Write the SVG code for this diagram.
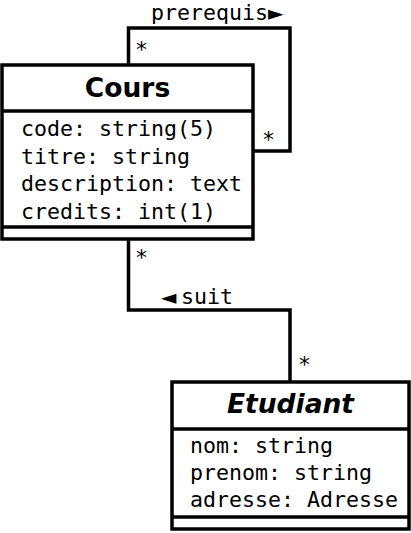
<svg xmlns="http://www.w3.org/2000/svg" width="411" height="533" viewBox="0 0 411 533">
<style>
.box{fill:#fff;stroke:#000;stroke-width:3.5}
.ln{fill:none;stroke:#000;stroke-width:3.5}
.mono{font-family:"DejaVu Sans Mono","Liberation Mono",monospace;font-size:21.6px;fill:#000}
.sym{font-family:"DejaVu Sans","Liberation Sans",sans-serif;font-size:20px}
.title{font-family:"DejaVu Sans","Liberation Sans",sans-serif;font-size:26.5px;font-weight:bold;fill:#000;text-anchor:middle}
</style>
<rect width="411" height="533" fill="#fff"/>
<g id="connectors">
<polyline class="ln" points="128.5,65 128.5,28 290,28 290,151 253,151"/>
<text class="mono" x="151" y="19.5">prerequis<tspan class="sym">►</tspan></text>
<text class="mono" x="135" y="57">*</text>
<text class="mono" x="262" y="147">*</text>
<polyline class="ln" points="128.5,239 128.5,310 290,310 290,382"/>
<text class="mono" x="135" y="265">*</text>
<text class="mono" x="161" y="304"><tspan class="sym">◄</tspan><tspan x="181">suit</tspan></text>
<text class="mono" x="298" y="372">*</text>
</g>
<g id="Cours">
<rect class="box" x="2" y="65" width="251" height="174"/>
<line class="ln" x1="2" y1="111" x2="253" y2="111"/>
<line class="ln" x1="2" y1="227" x2="253" y2="227"/>
<text class="title" x="127.5" y="97">Cours</text>
<text class="mono" x="21" y="136">code: string(5)</text>
<text class="mono" x="21" y="163.5">titre: string</text>
<text class="mono" x="21" y="191">description: text</text>
<text class="mono" x="21" y="218.5">credits: int(1)</text>
</g>
<g id="Etudiant">
<rect class="box" x="172" y="382" width="237" height="147"/>
<line class="ln" x1="172" y1="429" x2="409" y2="429"/>
<line class="ln" x1="172" y1="517" x2="409" y2="517"/>
<text class="title" x="290.5" y="413" font-style="italic">Etudiant</text>
<text class="mono" x="190" y="453">nom: string</text>
<text class="mono" x="190" y="480">prenom: string</text>
<text class="mono" x="190" y="507">adresse: Adresse</text>
</g>
</svg>
